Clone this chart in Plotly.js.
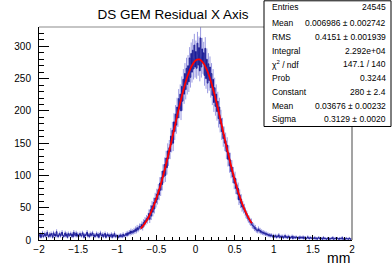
<!DOCTYPE html>
<html>
<head>
<meta charset="utf-8">
<script src="https://cdn.plot.ly/plotly-3.0.1.min.js"></script>
<style>html,body{margin:0;padding:0;background:#fff;}#chart{width:392px;height:267px;}</style>
</head>
<body>
<div id="chart"></div>
<script>
// Histogram: 400 bins of width 0.01 from -2 to 2
const binStart = -2.0;
const binWidth = 0.01;
const counts = [
 6,9,4,8,11,5,7,10,6,8,
 12,7,5,9,6,10,8,4,11,7,
 9,6,13,7,5,8,10,6,9,12,
 7,5,8,11,6,9,4,10,7,8,
 10,6,9,5,12,8,7,11,6,9,
 5,8,10,7,6,11,9,4,8,7,
 9,12,6,8,5,10,7,9,11,6,
 8,5,7,10,6,9,4,8,11,7,
 6,9,5,8,10,4,7,9,6,8,
 5,7,9,4,8,6,10,5,7,6,
 6,4,7,5,8,6,5,9,6,7,
 8,10,7,11,9,12,10,14,11,13,
 12,15,13,17,14,19,16,18,21,20,
 21,24,19,27,25,30,28,33,31,36,
 41,32,47,37,53,43,58,48,65,58,
 71,63,78,70,88,77,97,86,107,98,
 117,100,127,112,138,126,143,137,161,148,
 170,150,183,168,195,178,206,189,219,203,
 226,200,238,215,249,226,258,233,266,241,
 270,245,282,252,289,260,294,265,302,268,
 292,266,305,271,298,262,313,268,296,274,
 290,255,297,250,280,243,273,247,268,236,
 258,224,249,213,236,207,226,199,215,188,
 206,180,188,168,176,157,163,150,154,137,
 147,125,135,115,124,106,113,98,103,88,
 96,80,86,71,80,62,70,57,63,51,
 53,48,49,44,40,39,36,33,32,29,
 27,28,23,22,21,18,19,16,15,14,
 17,14,15,12,13,11,12,10,11,9,
 10,8,9,7,8,6,8,7,5,7,
 6,5,7,4,6,5,8,4,5,6,
 4,6,3,5,7,4,5,3,6,4,
 5,3,4,6,2,5,4,3,5,4,
 3,4,2,5,3,4,3,5,2,4,
 4,2,3,5,3,2,4,3,3,2,
 3,2,4,2,3,1,3,4,2,3,
 2,3,1,4,2,3,2,1,3,2,
 3,1,2,3,2,4,1,2,3,2,
 2,3,2,1,3,2,2,4,1,2,
 2,1,3,2,2,1,3,2,1,2
];

// Fit curve (gaus) sample points
const fitX = [-0.70,-0.65,-0.60,-0.55,-0.50,-0.45,-0.40,-0.35,-0.30,-0.25,-0.20,-0.15,-0.10,-0.05,0.00,
              0.05,0.10,0.15,0.20,0.25,0.30,0.35,0.40,0.45,0.50,0.55,0.60,0.65,0.70,0.72];
const fitY = [17.5,25.2,35.3,48.2,64.3,83.5,105.7,130.4,156.9,184.0,210.3,234.3,254.5,269.4,278.1,
              279.8,274.3,262.2,244.4,222.0,196.6,169.7,142.7,117.1,93.6,72.9,55.4,41.0,29.6,25.8];

// Stats box
const statNames = ["Entries","Mean","RMS","Integral","χ<sup>2</sup> / ndf","Prob","Constant","Mean","Sigma"];
const statValues = ["24545","0.006986 ± 0.002742","0.4151 ± 0.001939","2.292e+04","147.1 / 140","0.3244","280 ± 2.4","0.03676 ± 0.00232","0.3129 ± 0.0020"];

const titleText = "DS GEM Residual X Axis";
const xTitle = "mm";

const binCenters = counts.map((_, i) => binStart + binWidth * (i + 0.5));
const errors = counts.map(v => Math.sqrt(v));

// pixel helpers for layout positions
const W = 392, H = 267, L = 39, R = 352, T = 27, B = 240;
const px = x => (x - L) / (R - L);
const py = y => (B - y) / (B - T);

const font = "Liberation Sans, Arial, Helvetica, sans-serif";

const traces = [
  {
    type: "scatter", mode: "markers", x: binCenters, y: counts,
    marker: {size: 0.1, color: "rgba(0,0,0,0)"},
    error_y: {type: "data", array: errors, visible: true, color: "rgba(70,70,200,0.55)", thickness: 1, width: 0},
    hoverinfo: "skip", showlegend: false
  },
  {
    type: "scatter", mode: "lines", x: binCenters, y: counts,
    line: {color: "#1c1c96", width: 1, shape: "hvh"},
    hoverinfo: "skip", showlegend: false
  },
  {
    type: "scatter", mode: "lines", x: fitX, y: fitY,
    line: {color: "#ff0000", width: 1.8, shape: "spline"},
    hoverinfo: "skip", showlegend: false
  }
];

const annotations = [];
const rowY = [7.5, 23.2, 37.2, 50.7, 64.2, 78.2, 92, 105.8, 119.4];
statNames.forEach((n, i) => {
  annotations.push({xref: "paper", yref: "paper", x: px(270), y: py(rowY[i]), xanchor: "left", yanchor: "middle",
    text: n, showarrow: false, font: {family: font, size: 8.5, color: "#000"}});
  annotations.push({xref: "paper", yref: "paper", x: px(388), y: py(rowY[i]), xanchor: "right", yanchor: "middle",
    text: statValues[i], showarrow: false, font: {family: font, size: 8.5, color: "#000"}});
});
annotations.push({xref: "paper", yref: "paper", x: px(352), y: py(258), xanchor: "right", yanchor: "middle",
  text: xTitle, showarrow: false, font: {family: font, size: 14, color: "#000"}});

const layout = {
  width: W, height: H,
  margin: {l: L, r: W - R, t: T, b: H - B, pad: 0},
  paper_bgcolor: "#fff", plot_bgcolor: "#fff",
  showlegend: false,
  title: {text: titleText, x: 173 / W, xanchor: "center", y: 1 - 14 / H, yanchor: "middle",
          font: {family: font, size: 13.5, color: "#000"}},
  xaxis: {
    range: [-2, 2], showgrid: false, zeroline: false,
    showline: true, linecolor: "#000", linewidth: 1,
    ticks: "inside", ticklen: 5, tickcolor: "#000", tickwidth: 1,
    dtick: 0.5, tick0: 0,
    minor: {ticks: "inside", ticklen: 3, dtick: 0.1, tickcolor: "#000", tickwidth: 1, showgrid: false},
    tickfont: {family: font, size: 10, color: "#000"}, ticklabelstandoff: 0
  },
  yaxis: {
    range: [0, 330], showgrid: false, zeroline: false,
    showline: true, linecolor: "#000", linewidth: 1,
    ticks: "inside", ticklen: 10, tickcolor: "#000", tickwidth: 1,
    dtick: 50, tick0: 0,
    minor: {ticks: "inside", ticklen: 5, dtick: 10, tickcolor: "#000", tickwidth: 1, showgrid: false},
    tickfont: {family: font, size: 10, color: "#000"}, ticklabelstandoff: 5
  },
  shapes: [
    {type: "line", xref: "paper", yref: "paper", x0: 0, x1: 1, y0: 1, y1: 1, line: {color: "#8c8c8c", width: 1.2}, layer: "above"},
    {type: "line", xref: "paper", yref: "paper", x0: 1, x1: 1, y0: 0, y1: 1, line: {color: "#8c8c8c", width: 1.6}, layer: "above"},
    {type: "rect", xref: "paper", yref: "paper", x0: px(264), x1: px(391), y0: py(126.5), y1: py(0.8),
     line: {color: "#000", width: 1}, fillcolor: "#fff", layer: "above"}
  ],
  annotations: annotations
};

Plotly.newPlot("chart", traces, layout, {staticPlot: true, displayModeBar: false});
</script>
</body>
</html>
